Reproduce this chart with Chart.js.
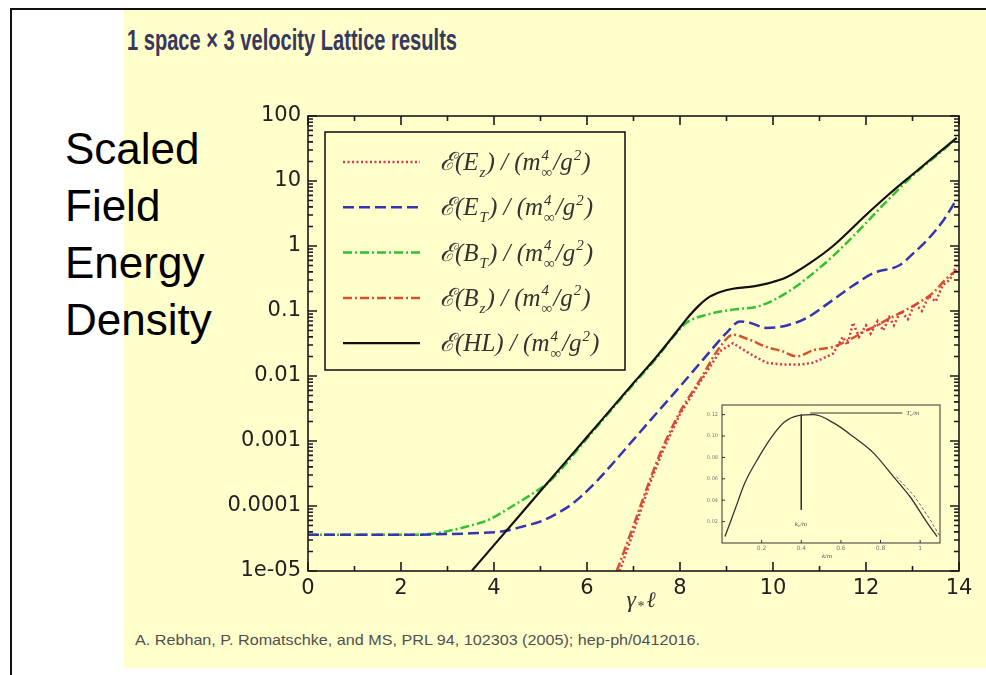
<!DOCTYPE html>
<html>
<head>
<meta charset="utf-8">
<title>1 space × 3 velocity Lattice results</title>
<script src="https://cdn.jsdelivr.net/npm/chart.js@4.4.1/dist/chart.umd.min.js"></script>
<style>
html, body { margin: 0; padding: 0; background: #fff; }
body { position: relative; width: 986px; height: 675px; overflow: hidden; }
.rule-left { position: absolute; left: 10px; top: 8px; width: 2px; height: 667px; background: #111; }
.rule-top { position: absolute; left: 10px; top: 8px; width: 976px; height: 2px; background: #111; }
.slide { position: absolute; left: 124px; top: 10px; width: 862px; height: 658px; background: #ffffcc; }
.title { position: absolute; left: 127px; top: 23px; font: bold 30px/34px Arial, "Liberation Sans", sans-serif; color: #38385c; white-space: nowrap; transform-origin: 0 0; }
.side { position: absolute; left: 65px; top: 120px; font: 44px/57px Arial, "Liberation Sans", sans-serif; color: #000; }
.cite { position: absolute; left: 135px; top: 631px; font: 15px/18px Arial, "Liberation Sans", sans-serif; color: #505050; white-space: nowrap; transform-origin: 0 0; }
#main { position: absolute; left: 0; top: 0; }
#inset { position: absolute; left: 690px; top: 395px; }
</style>
</head>
<body>
<div class="rule-left"></div>
<div class="rule-top"></div>
<div class="slide"></div>
<div class="title" id="title">1 space × 3 velocity Lattice results</div>
<div class="side">Scaled<br>Field<br>Energy<br>Density</div>
<div class="cite" id="cite">A. Rebhan, P. Romatschke, and MS, PRL 94, 102303 (2005); hep-ph/0412016.</div>
<canvas id="main" width="986" height="675"></canvas>
<canvas id="inset" width="262" height="170"></canvas>
<script>
// axis ranges and labels
const xMin = 0, xMax = 14;
const yMin = 1e-5, yMax = 100;
const yDecades = [1e-5, 1e-4, 1e-3, 1e-2, 1e-1, 1, 10, 100];
const yTickLabels = ['1e-05', '0.0001', '0.001', '0.01', '0.1', '1', '10', '100'];

// E(E_z) - dotted red
const tEL = [6.7, 7.0, 7.35, 7.63, 8.0, 8.43, 8.86, 9.14, 9.5, 9.86, 10.2, 10.58, 10.87, 11.29, 11.5, 11.6, 11.72, 11.85, 12.0, 12.1, 12.25, 12.37, 12.5, 12.6, 12.75, 12.9, 13.05, 13.2, 13.35, 13.5, 13.65, 13.8, 13.95];
const eEL = [1e-5, 4e-5, 2.2e-4, 7e-4, 2.6e-3, 8e-3, 0.024, 0.032, 0.022, 0.016, 0.015, 0.015, 0.016, 0.022, 0.04, 0.03, 0.066, 0.04, 0.06, 0.045, 0.07, 0.05, 0.08, 0.06, 0.1, 0.075, 0.13, 0.1, 0.17, 0.14, 0.25, 0.3, 0.5];

// E(E_T) - dashed blue
const tET = [0, 1, 2, 3, 3.5, 4.2, 4.6, 5.06, 5.4, 5.7, 6.1, 6.49, 7, 7.5, 8, 8.5, 9, 9.29, 9.5, 9.86, 10.3, 10.72, 11.3, 11.7, 12.15, 12.73, 13, 13.3, 13.65, 13.95];
const eET = [3.6e-5, 3.6e-5, 3.6e-5, 3.7e-5, 3.8e-5, 4.1e-5, 4.8e-5, 6e-5, 8e-5, 1.1e-4, 2e-4, 4e-4, 1.05e-3, 2.7e-3, 6.9e-3, 0.018, 0.046, 0.069, 0.066, 0.055, 0.06, 0.078, 0.15, 0.24, 0.38, 0.51, 0.75, 1.2, 2.4, 5.2];

// E(B_T) - dash-dot green
const tBT = [0, 1, 2, 2.6, 3.0, 3.4, 3.9, 4.4, 4.8, 5.2, 6, 7, 7.5, 7.8, 8.14, 8.64, 9.14, 9.72, 10.29, 10.8, 11.29, 11.8, 12.3, 13, 13.5, 13.95];
const eBT = [3.6e-5, 3.6e-5, 3.6e-5, 3.7e-5, 4.1e-5, 4.8e-5, 6.2e-5, 1.0e-4, 1.5e-4, 2.4e-4, 1.1e-3, 7.5e-3, 0.019, 0.036, 0.066, 0.09, 0.105, 0.12, 0.19, 0.35, 0.7, 1.6, 3.8, 12, 24, 45];

// E(B_z) - dash-dot orange red
const tBL = [6.64, 7.0, 7.35, 7.63, 8.0, 8.43, 8.86, 9.14, 9.5, 9.86, 10.2, 10.51, 10.87, 11.29, 11.7, 12.0, 12.2, 12.4, 12.73, 13.1, 13.44, 13.7, 13.95];
const eBL = [1e-5, 5e-5, 2.5e-4, 8e-4, 2.8e-3, 8.7e-3, 0.028, 0.043, 0.036, 0.028, 0.024, 0.02, 0.025, 0.028, 0.038, 0.05, 0.058, 0.07, 0.093, 0.13, 0.19, 0.3, 0.43];

// E(HL) - solid black
const tHL = [3.52, 4, 5, 6, 7, 7.5, 7.9, 8.14, 8.4, 8.64, 8.9, 9.14, 9.5, 9.72, 10, 10.29, 10.8, 11.29, 12, 12.5, 13, 13.5, 13.95];
const eHL = [1e-5, 2.5e-5, 1.7e-4, 1.15e-3, 7.8e-3, 0.02, 0.045, 0.075, 0.12, 0.166, 0.2, 0.22, 0.235, 0.25, 0.28, 0.33, 0.55, 1.0, 3.0, 6.3, 12.6, 25, 46];

// inset curve
const insetK = [0.015, 0.065, 0.115, 0.185, 0.25, 0.315, 0.385, 0.465, 0.565, 0.665, 0.765, 0.865, 0.95, 1.035, 1.085];
const insetW = [0.006, 0.031, 0.056, 0.080, 0.099, 0.113, 0.119, 0.120, 0.112, 0.099, 0.084, 0.062, 0.043, 0.019, 0.006];
const insetTailK = [0.88, 0.97, 1.05, 1.1];
const insetTailW = [0.062, 0.044, 0.022, 0.006];
const kcLineK = [0.4, 0.4];
const kcLineW = [0.12, 0.031];
const tcLineK = [0.445, 0.91];
const tcLineW = [0.1215, 0.1215];

const serifItalic = '"Liberation Serif", "DejaVu Serif", serif';

const series = [
  { label: 'ℰ(E_z) / (m_∞^4/g^2)', t: tEL, e: eEL, color: '#dc3553', dash: [2, 2.5], width: 2.5, smooth: false },
  { label: 'ℰ(E_T) / (m_∞^4/g^2)', t: tET, e: eET, color: '#3535b0', dash: [11, 5], width: 2.5, smooth: true },
  { label: 'ℰ(B_T) / (m_∞^4/g^2)', t: tBT, e: eBT, color: '#33c033', dash: [9, 3, 2, 3], width: 2.5, smooth: true },
  { label: 'ℰ(B_z) / (m_∞^4/g^2)', t: tBL, e: eBL, color: '#d5522c', dash: [9, 3, 2, 3], width: 2.5, smooth: true },
  { label: 'ℰ(HL) / (m_∞^4/g^2)', t: tHL, e: eHL, color: '#111111', dash: [], width: 2.2, smooth: true }
];

function pts(xs, ys) {
  return xs.map((x, i) => ({ x: x, y: ys[i] }));
}

// draws text with _x subscripts and ^x superscripts (stacked when both follow)
function drawRich(ctx, x, y, text, size) {
  const big = `italic ${size}px ${serifItalic}`;
  const small = `italic ${Math.round(size * 0.6)}px ${serifItalic}`;
  let cx = x, buf = '';
  const flush = () => {
    if (!buf) return;
    ctx.font = big;
    ctx.fillText(buf, cx, y);
    cx += ctx.measureText(buf).width;
    buf = '';
  };
  let i = 0;
  while (i < text.length) {
    const ch = text[i];
    if (ch === '_' || ch === '^') {
      flush();
      let sub = null, sup = null;
      if (ch === '_') { sub = text[i + 1]; i += 2; if (text[i] === '^') { sup = text[i + 1]; i += 2; } }
      else { sup = text[i + 1]; i += 2; }
      ctx.font = small;
      let w = 0;
      if (sub) { ctx.fillText(sub, cx + 1, y + size * 0.28); w = Math.max(w, ctx.measureText(sub).width); }
      if (sup) { ctx.fillText(sup, cx + 1, y - size * 0.42); w = Math.max(w, ctx.measureText(sup).width); }
      cx += w + 2;
    } else {
      buf += ch;
      i++;
    }
  }
  flush();
  return cx;
}

const frameAndLegend = {
  id: 'frameAndLegend',
  afterDatasetsDraw(chart) {
    const { ctx, chartArea: a, scales: { x, y } } = chart;
    ctx.save();
    ctx.strokeStyle = '#1a1a1a';
    ctx.lineWidth = 1.6;
    ctx.strokeRect(a.left, a.top, a.right - a.left, a.bottom - a.top);

    // inward tick marks on all four sides
    ctx.beginPath();
    for (let v = xMin; v <= xMax; v++) {
      const px = x.getPixelForValue(v);
      const len = v % 2 === 0 ? 9 : 5;
      ctx.moveTo(px, a.bottom); ctx.lineTo(px, a.bottom - len);
      ctx.moveTo(px, a.top); ctx.lineTo(px, a.top + len);
    }
    yDecades.forEach(d => {
      for (let m = 1; m < 10; m++) {
        const v = d * m;
        if (v > yMax * 1.0001) break;
        const py = y.getPixelForValue(v);
        const len = m === 1 ? 9 : 5;
        ctx.moveTo(a.left, py); ctx.lineTo(a.left + len, py);
        ctx.moveTo(a.right, py); ctx.lineTo(a.right - len, py);
      }
    });
    ctx.stroke();

    // legend box
    const bx = a.left + 17, by = a.top + 16, bw = 300, bh = 238;
    ctx.lineWidth = 1.6;
    ctx.strokeRect(bx, by, bw, bh);
    ctx.textBaseline = 'alphabetic';
    ctx.textAlign = 'left';
    series.forEach((s, i) => {
      const ry = by + 30 + i * 45.3;
      ctx.beginPath();
      ctx.strokeStyle = s.color;
      ctx.lineWidth = s.width;
      ctx.setLineDash(s.dash);
      ctx.moveTo(bx + 18, ry);
      ctx.lineTo(bx + 95, ry);
      ctx.stroke();
      ctx.setLineDash([]);
      ctx.fillStyle = '#333';
      drawRich(ctx, bx + 115, ry + 8, s.label, 25);
    });

    // x axis title
    ctx.fillStyle = '#333';
    const tx = x.getPixelForValue(6.85);
    ctx.font = `italic 24px ${serifItalic}`;
    ctx.fillText('γ', tx, a.bottom + 36);
    ctx.font = `14px ${serifItalic}`;
    ctx.fillText('*', tx + 11, a.bottom + 40);
    ctx.font = `italic 22px ${serifItalic}`;
    ctx.fillText('ℓ', tx + 20, a.bottom + 36);
    ctx.restore();
  }
};

new Chart(document.getElementById('main'), {
  type: 'line',
  data: {
    datasets: series.map((s, i) => ({
      label: s.label,
      data: pts(s.t, s.e),
      borderColor: s.color,
      borderDash: s.dash,
      borderWidth: s.width,
      pointRadius: 0,
      fill: false,
      tension: 0,
      cubicInterpolationMode: s.smooth ? 'monotone' : 'default',
      order: i === 4 ? 0 : 1
    }))
  },
  options: {
    responsive: false,
    animation: false,
    devicePixelRatio: 1,
    layout: { padding: { left: 0, top: 116, right: 27, bottom: 74 } },
    plugins: { legend: { display: false }, tooltip: { enabled: false } },
    scales: {
      x: {
        type: 'linear',
        min: xMin,
        max: xMax,
        afterFit: s => { s.height = 30; },
        grid: { display: false, drawTicks: false },
        border: { display: false },
        ticks: {
          stepSize: 2,
          maxRotation: 0,
          padding: 5,
          color: '#222',
          font: { family: '"DejaVu Sans", sans-serif', size: 21 }
        }
      },
      y: {
        type: 'logarithmic',
        min: yMin,
        max: yMax,
        afterFit: s => { s.width = 308; },
        grid: { display: false, drawTicks: false },
        border: { display: false },
        ticks: {
          autoSkip: false,
          padding: 7,
          color: '#222',
          font: { family: '"DejaVu Sans", sans-serif', size: 21 },
          callback: v => {
            const i = yDecades.findIndex(d => Math.abs(Math.log10(v) - Math.log10(d)) < 1e-6);
            return i >= 0 ? yTickLabels[i] : '';
          }
        }
      }
    }
  },
  plugins: [frameAndLegend]
});

// small inset panel
const insetNotes = [
  { text: 'T_c/m', k: 0.93, w: 0.1215, align: 'left' },
  { text: 'k_c/m', k: 0.4, w: 0.018, align: 'center' },
  { text: 'k/m', k: 0.53, w: -0.012, align: 'center' }
];

const insetFrame = {
  id: 'insetFrame',
  afterDatasetsDraw(chart) {
    const { ctx, chartArea: a, scales: { x, y } } = chart;
    ctx.save();
    ctx.strokeStyle = '#333';
    ctx.lineWidth = 1;
    ctx.strokeRect(a.left, a.top, a.right - a.left, a.bottom - a.top);
    ctx.beginPath();
    for (let k = 0.2; k < 1.05; k += 0.2) {
      const px = x.getPixelForValue(k);
      ctx.moveTo(px, a.bottom); ctx.lineTo(px, a.bottom - 3);
    }
    for (let w = 0.02; w < 0.125; w += 0.02) {
      const py = y.getPixelForValue(w);
      ctx.moveTo(a.left, py); ctx.lineTo(a.left + 3, py);
    }
    ctx.stroke();
    ctx.fillStyle = '#555';
    ctx.textBaseline = 'middle';
    insetNotes.forEach(n => {
      const px = x.getPixelForValue(n.k), py = y.getPixelForValue(n.w);
      ctx.font = `italic 7px ${serifItalic}`;
      const parts = n.text.split('_');
      let w = ctx.measureText(parts.join('')).width;
      let sx = n.align === 'center' ? px - w / 2 : px;
      if (parts.length > 1) {
        ctx.fillText(parts[0], sx, py);
        sx += ctx.measureText(parts[0]).width;
        ctx.font = `italic 5px ${serifItalic}`;
        ctx.fillText(parts[1][0], sx, py + 2);
        sx += ctx.measureText(parts[1][0]).width;
        ctx.font = `italic 7px ${serifItalic}`;
        ctx.fillText(parts[1].slice(1), sx, py);
      } else {
        ctx.fillText(n.text, sx, py);
      }
    });
    ctx.restore();
  }
};

new Chart(document.getElementById('inset'), {
  type: 'line',
  data: {
    datasets: [
      { data: pts(insetK, insetW), borderColor: '#333', borderWidth: 1.3, pointRadius: 0, cubicInterpolationMode: 'monotone' },
      { data: pts(insetTailK, insetTailW), borderColor: '#666', borderWidth: 1, borderDash: [3, 2], pointRadius: 0 },
      { data: pts(kcLineK, kcLineW), borderColor: '#333', borderWidth: 1, pointRadius: 0 },
      { data: pts(tcLineK, tcLineW), borderColor: '#333', borderWidth: 1, pointRadius: 0 }
    ]
  },
  options: {
    responsive: false,
    animation: false,
    devicePixelRatio: 1,
    layout: { padding: { left: 0, top: 10, right: 12, bottom: 8 } },
    plugins: { legend: { display: false }, tooltip: { enabled: false } },
    scales: {
      x: {
        type: 'linear', min: 0, max: 1.1,
        afterFit: s => { s.height = 14; },
        grid: { display: false, drawTicks: false },
        border: { display: false },
        ticks: {
          stepSize: 0.2, maxRotation: 0, padding: 2, color: '#777',
          font: { family: '"DejaVu Sans", sans-serif', size: 6 },
          callback: v => {
            const r = Math.round(v / 0.2);
            return (r > 0 && Math.abs(v - r * 0.2) < 1e-6) ? String(+(r * 0.2).toFixed(1)) : '';
          }
        }
      },
      y: {
        type: 'linear', min: 0, max: 0.129,
        afterFit: s => { s.width = 32; },
        grid: { display: false, drawTicks: false },
        border: { display: false },
        ticks: {
          stepSize: 0.02, padding: 4, color: '#777',
          font: { family: '"DejaVu Sans", sans-serif', size: 5 },
          callback: v => {
            const r = Math.round(v / 0.02);
            return (r > 0 && Math.abs(v - r * 0.02) < 1e-6) ? (r * 0.02).toFixed(2) : '';
          }
        }
      }
    }
  },
  plugins: [insetFrame]
});

// squeeze the heading and the reference line to the widths they take in the slide
function fitWidth(id, target) {
  const el = document.getElementById(id);
  const w = el.getBoundingClientRect().width;
  el.style.transform = `scaleX(${target / w})`;
}
fitWidth('title', 330);
fitWidth('cite', 565);
</script>
</body>
</html>
